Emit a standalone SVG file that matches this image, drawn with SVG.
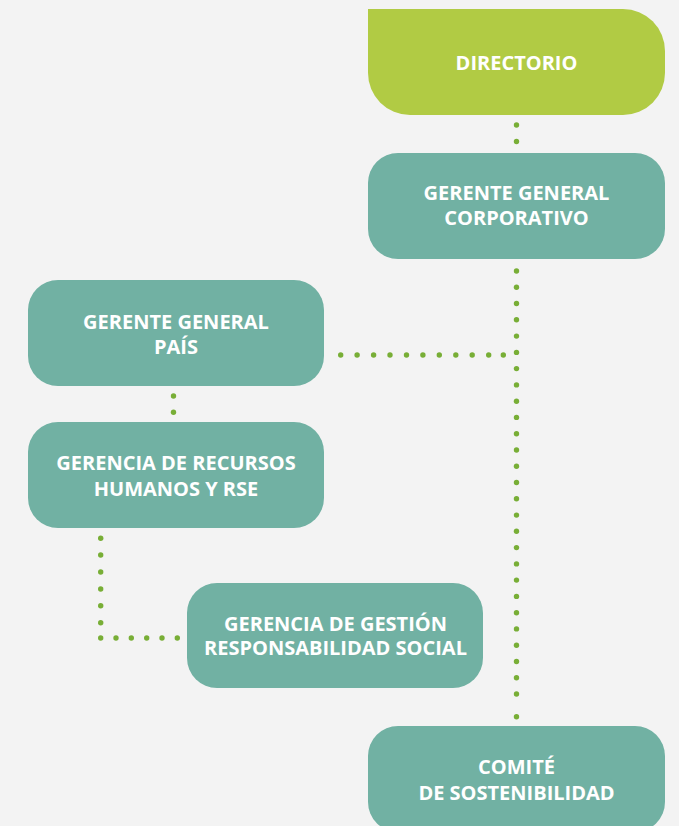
<svg xmlns="http://www.w3.org/2000/svg" width="679" height="826" viewBox="0 0 679 826">
  <style>
    .box { fill: #71b1a3; }
    .top { fill: #b1cb44; }
    .lbl { font-family: "Open Sans", "Liberation Sans", sans-serif; font-weight: 700; font-size: 20px; fill: #ffffff; text-anchor: middle; }
    .dot { fill: #78ae36; }
  </style>
  <rect x="0" y="0" width="679" height="826" fill="#f3f3f3"/>

  <g id="connectors">
    <!-- Directorio to Gerente General Corporativo -->
    <circle class="dot" cx="516.5" cy="125" r="2.7"/>
    <circle class="dot" cx="516.5" cy="141.5" r="2.7"/>
    <!-- main vertical -->
    <g id="main-vertical">
      <circle class="dot" cx="516.5" cy="271" r="2.7"/>
      <circle class="dot" cx="516.5" cy="287.3" r="2.7"/>
      <circle class="dot" cx="516.5" cy="303.5" r="2.7"/>
      <circle class="dot" cx="516.5" cy="319.8" r="2.7"/>
      <circle class="dot" cx="516.5" cy="336.1" r="2.7"/>
      <circle class="dot" cx="516.5" cy="352.4" r="2.7"/>
      <circle class="dot" cx="516.5" cy="368.6" r="2.7"/>
      <circle class="dot" cx="516.5" cy="384.9" r="2.7"/>
      <circle class="dot" cx="516.5" cy="401.2" r="2.7"/>
      <circle class="dot" cx="516.5" cy="417.4" r="2.7"/>
      <circle class="dot" cx="516.5" cy="433.7" r="2.7"/>
      <circle class="dot" cx="516.5" cy="450" r="2.7"/>
      <circle class="dot" cx="516.5" cy="466.2" r="2.7"/>
      <circle class="dot" cx="516.5" cy="482.5" r="2.7"/>
      <circle class="dot" cx="516.5" cy="498.8" r="2.7"/>
      <circle class="dot" cx="516.5" cy="515.1" r="2.7"/>
      <circle class="dot" cx="516.5" cy="531.3" r="2.7"/>
      <circle class="dot" cx="516.5" cy="547.6" r="2.7"/>
      <circle class="dot" cx="516.5" cy="563.9" r="2.7"/>
      <circle class="dot" cx="516.5" cy="580.1" r="2.7"/>
      <circle class="dot" cx="516.5" cy="596.4" r="2.7"/>
      <circle class="dot" cx="516.5" cy="612.7" r="2.7"/>
      <circle class="dot" cx="516.5" cy="628.9" r="2.7"/>
      <circle class="dot" cx="516.5" cy="645.2" r="2.7"/>
      <circle class="dot" cx="516.5" cy="661.5" r="2.7"/>
      <circle class="dot" cx="516.5" cy="677.7" r="2.7"/>
      <circle class="dot" cx="516.5" cy="694" r="2.7"/>
      <circle class="dot" cx="516.5" cy="716.7" r="2.7"/>
    </g>
    <!-- horizontal to Gerente General País -->
    <g id="pais-horizontal">
      <circle class="dot" cx="340.7" cy="355" r="2.7"/>
      <circle class="dot" cx="357.1" cy="355" r="2.7"/>
      <circle class="dot" cx="373.6" cy="355" r="2.7"/>
      <circle class="dot" cx="390" cy="355" r="2.7"/>
      <circle class="dot" cx="406.5" cy="355" r="2.7"/>
      <circle class="dot" cx="422.9" cy="355" r="2.7"/>
      <circle class="dot" cx="439.3" cy="355" r="2.7"/>
      <circle class="dot" cx="455.8" cy="355" r="2.7"/>
      <circle class="dot" cx="472.2" cy="355" r="2.7"/>
      <circle class="dot" cx="488.7" cy="355" r="2.7"/>
      <circle class="dot" cx="503.3" cy="355" r="2.7"/>
    </g>
    <!-- País to Recursos -->
    <circle class="dot" cx="173.5" cy="396" r="2.7"/>
    <circle class="dot" cx="173.5" cy="412.3" r="2.7"/>
    <!-- Recursos to Gestión -->
    <g id="rse-elbow">
      <circle class="dot" cx="100.7" cy="538.3" r="2.7"/>
      <circle class="dot" cx="100.7" cy="555" r="2.7"/>
      <circle class="dot" cx="100.7" cy="572" r="2.7"/>
      <circle class="dot" cx="100.7" cy="589" r="2.7"/>
      <circle class="dot" cx="100.7" cy="605.7" r="2.7"/>
      <circle class="dot" cx="100.7" cy="622.7" r="2.7"/>
      <circle class="dot" cx="100.7" cy="638" r="2.7"/>
      <circle class="dot" cx="116" cy="638" r="2.7"/>
      <circle class="dot" cx="131.3" cy="638" r="2.7"/>
      <circle class="dot" cx="146.7" cy="638" r="2.7"/>
      <circle class="dot" cx="162" cy="638" r="2.7"/>
      <circle class="dot" cx="177.3" cy="638" r="2.7"/>
    </g>
  </g>

  <g id="directorio">
    <path class="top" d="M368,9 H623 A42,42 0 0 1 665,51 V73 A42,42 0 0 1 623,115 H410 A42,42 0 0 1 368,73 Z"/>
    <text class="lbl" x="516.5" y="70">DIRECTORIO</text>
  </g>

  <g id="gerente-corporativo">
    <rect class="box" x="368" y="153" width="297" height="106" rx="30" ry="30"/>
    <text class="lbl" x="516.5" y="200">GERENTE GENERAL</text>
    <text class="lbl" x="516.5" y="225">CORPORATIVO</text>
  </g>

  <g id="gerente-pais">
    <rect class="box" x="28" y="280" width="296" height="106" rx="30" ry="30"/>
    <text class="lbl" x="176" y="328.5">GERENTE GENERAL</text>
    <text class="lbl" x="176" y="353.5">PAÍS</text>
  </g>

  <g id="gerencia-rrhh">
    <rect class="box" x="28" y="422" width="296" height="106" rx="30" ry="30"/>
    <text class="lbl" x="176" y="470">GERENCIA DE RECURSOS</text>
    <text class="lbl" x="176" y="495.5">HUMANOS Y RSE</text>
  </g>

  <g id="gerencia-gestion">
    <rect class="box" x="187" y="583" width="296" height="105" rx="30" ry="30"/>
    <text class="lbl" x="335.5" y="630.5">GERENCIA DE GESTIÓN</text>
    <text class="lbl" x="335.5" y="655">RESPONSABILIDAD SOCIAL</text>
  </g>

  <g id="comite">
    <rect class="box" x="368" y="726" width="297" height="106" rx="30" ry="30"/>
    <text class="lbl" x="516.5" y="774">COMITÉ</text>
    <text class="lbl" x="516.5" y="800">DE SOSTENIBILIDAD</text>
  </g>
</svg>
